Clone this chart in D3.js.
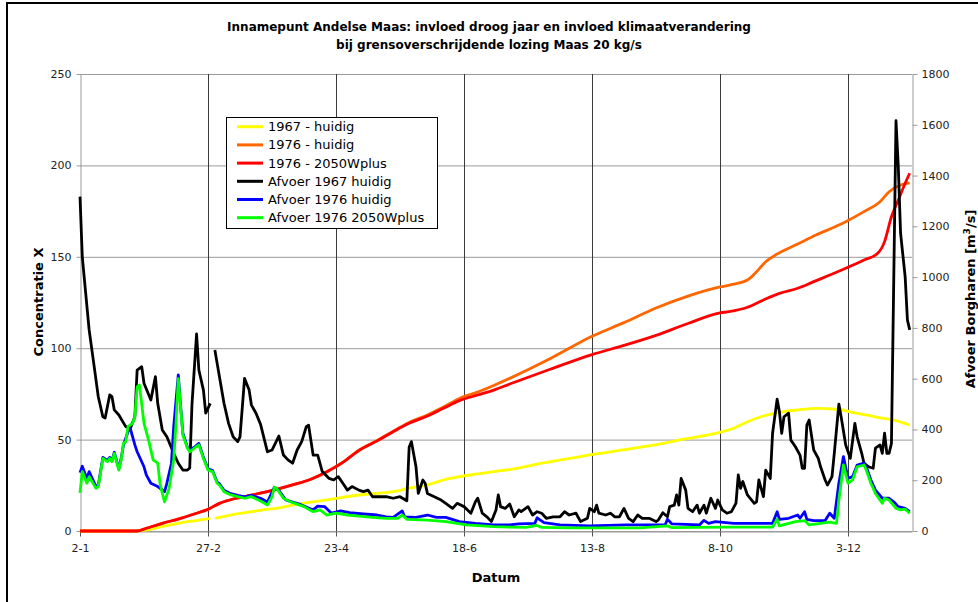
<!DOCTYPE html>
<html>
<head>
<meta charset="utf-8">
<script src="https://cdn.jsdelivr.net/npm/d3@7"></script>
<style>
  html, body { margin: 0; padding: 0; background: #fff; }
  svg { display: block; font-family: "DejaVu Sans", Verdana, sans-serif; }
</style>
</head>
<body>
<svg id="chart" width="978" height="602"></svg>
<script>
// Day offsets are counted from 2 January 1976; values for the 1967 series
// are placed on the same calendar (29 February has no 1967 value).
const startDate = new Date(1976, 0, 2);
const endDate = new Date(1976, 11, 31);

const titleLines = [
  "Innamepunt Andelse Maas: invloed droog jaar en invloed klimaatverandering",
  "bij grensoverschrijdende lozing Maas 20 kg/s"
];
const seriesNames = [
  "1967 - huidig", "1976 - huidig", "1976 - 2050Wplus",
  "Afvoer 1967 huidig", "Afvoer 1976 huidig", "Afvoer 1976 2050Wplus"
];
const seriesColors = ["#ffff00", "#ff6600", "#ff0000", "#000000", "#0000ff", "#00ff00"];

const xTickDays = [0, 56, 112, 168, 224, 280, 336];   // 2-1, 27-2, 23-4, 18-6, 13-8, 8-10, 3-12
const leftTicks = [0, 50, 100, 150, 200, 250];
const rightTicks = [0, 200, 400, 600, 800, 1000, 1200, 1400, 1600, 1800];

// Concentratie X (left axis), [day, value]
const conc1967 = [[0,0],[25,0],[29,0.5],[36,2.4],[44,4.5],[50,5.6],[57,6.9],[58,null],[59,6.9],[66,8.75],[73,10.2],[80,11.5],[87,12.7],[93,14.2],[108,17],[122,19.7],[137,21.5],[144,23.4],[152,25.2],[159,27.9],[166,29.7],[174,31.2],[184,33],[188,33.6],[198,36.1],[213,39.4],[223,41.6],[242,45.2],[254,47.6],[264,50.2],[278,53.4],[286,56.2],[292,59.8],[299,62.9],[306,64.9],[314,66.2],[322,67.1],[331,66.6],[340,64.4],[349,62.2],[356,60.7],[363,58]];
const conc1976 = [[0,0],[25,0],[29,1.5],[36,4.2],[44,6.9],[50,9.3],[56,11.9],[61,15.1],[67,17.5],[73,19.1],[80,21],[86,22.8],[93,25.2],[101,28.3],[108,32.4],[115,37.6],[122,44.2],[130,49.5],[137,54.6],[144,59.3],[152,63.5],[159,67.8],[166,72.5],[174,76],[181,79.6],[188,83.5],[206,94.5],[224,106.5],[238,114],[252,122],[266,128.5],[280,133.5],[286,135],[292,137.3],[296,141.8],[300,147.3],[305,151.5],[314,157],[322,161.9],[331,166.8],[335,169.2],[343,174.7],[350,180.1],[354,185.6],[359,189.3],[363,190.5]];
const conc1976W = [[0,0],[25,0],[29,1.5],[36,4.2],[44,6.9],[50,9.3],[56,11.9],[61,15.1],[67,17.5],[73,19.1],[80,21],[86,22.8],[93,25.2],[101,28.3],[108,32.4],[115,37.5],[122,44],[130,49.3],[137,54.3],[144,58.9],[152,62.9],[159,67.1],[166,71.3],[174,74.4],[181,77.1],[188,80.4],[206,88.6],[224,96.5],[238,101.5],[252,107],[266,113.5],[280,119.3],[284,120],[292,122.4],[299,126.4],[306,130],[314,132.8],[321,136.4],[328,140],[335,143.7],[343,148.2],[349,151.9],[352,158.3],[355,171.9],[358,181],[361,190.2],[363,195.7]];

// Afvoer Borgharen in m3/s (right axis), [day, value]
const afvoer1967 = [[0,1317],[1,1080],[4,792],[6,661],[8,529],[10,450],[11,445],[13,536],[14,529],[15,477],[17,457],[20,411],[22,404],[24,450],[25,634],[27,647],[28,582],[31,516],[33,608],[34,503],[36,398],[38,371],[41,306],[43,267],[45,240],[47,240],[48,248],[49,500],[51,776],[52,634],[54,555],[55,464],[57,503],[58,null],[59,713],[61,608],[63,503],[65,424],[67,371],[69,352],[70,371],[72,601],[74,555],[75,496],[77,464],[79,420],[82,312],[84,319],[87,374],[89,299],[91,280],[93,267],[95,319],[97,352],[99,411],[100,417],[102,299],[104,299],[106,234],[109,207],[111,201],[113,214],[115,188],[117,161],[119,175],[122,161],[124,155],[126,161],[128,135],[131,135],[134,135],[137,129],[140,135],[143,119],[144,330],[145,352],[147,253],[148,148],[150,201],[151,188],[152,148],[155,135],[158,122],[160,109],[163,89],[165,109],[168,96],[171,70],[173,115],[174,129],[176,70],[178,56],[180,37],[182,83],[183,142],[184,96],[186,89],[188,106],[190,56],[192,83],[193,76],[196,96],[198,63],[200,76],[202,70],[204,50],[207,56],[210,56],[212,76],[214,63],[217,70],[219,37],[222,50],[223,89],[225,76],[226,102],[227,70],[230,63],[232,70],[234,56],[236,56],[238,89],[240,50],[242,37],[244,63],[246,50],[249,50],[252,37],[253,43],[255,72],[257,56],[258,96],[260,102],[261,142],[262,102],[263,207],[265,161],[266,89],[268,76],[270,102],[271,70],[273,102],[274,70],[276,129],[278,89],[279,122],[281,83],[283,70],[285,76],[287,110],[288,221],[289,168],[290,195],[292,142],[295,109],[296,115],[297,201],[299,135],[300,240],[302,207],[303,385],[305,519],[306,470],[307,385],[308,450],[310,464],[311,358],[313,332],[315,299],[316,247],[317,247],[318,417],[319,437],[321,319],[323,286],[324,253],[326,201],[327,181],[329,214],[330,306],[332,500],[333,450],[335,339],[337,286],[339,424],[340,371],[342,306],[343,267],[345,253],[347,247],[348,326],[350,339],[351,306],[352,385],[353,306],[354,306],[355,345],[357,1616],[358,1435],[359,1173],[361,1002],[362,831],[363,792]];
const afvoer1976 = [[0,230],[1,255],[3,207],[4,234],[7,175],[8,180],[10,290],[12,278],[13,290],[14,278],[15,310],[17,245],[18,285],[19,339],[21,391],[22,404],[24,339],[25,312],[28,253],[29,221],[31,188],[34,175],[37,155],[38,188],[40,267],[41,411],[43,615],[44,495],[45,385],[47,330],[48,318],[50,330],[52,345],[54,290],[56,245],[58,238],[60,192],[61,186],[63,160],[66,147],[69,140],[72,134],[75,140],[79,129],[82,114],[85,172],[87,160],[90,122],[96,106],[102,83],[104,98],[107,96],[110,70],[114,79],[118,72],[124,67],[130,63],[134,56],[137,54],[141,79],[142,56],[147,54],[152,63],[156,54],[160,54],[166,37],[173,30],[181,24],[188,24],[192,28],[199,30],[200,52],[203,33],[210,24],[223,20],[239,24],[250,24],[256,24],[257,46],[259,28],[271,24],[273,42],[275,30],[278,37],[286,30],[292,30],[303,30],[305,76],[306,46],[310,50],[314,63],[315,50],[317,76],[318,46],[321,41],[326,41],[328,70],[330,50],[332,188],[334,293],[336,207],[338,214],[340,260],[343,267],[344,253],[346,201],[348,161],[351,129],[354,129],[356,115],[358,96],[361,89],[363,76]];
const afvoer1976W = [[0,150],[1,234],[3,188],[4,214],[7,168],[8,175],[10,286],[12,273],[13,286],[14,273],[15,306],[17,240],[18,280],[19,345],[20,352],[21,411],[23,424],[24,450],[25,568],[26,575],[28,424],[30,358],[32,280],[34,267],[35,188],[36,148],[37,115],[39,168],[41,280],[42,424],[43,600],[44,490],[45,378],[47,326],[48,312],[50,326],[52,339],[54,286],[56,240],[58,234],[60,188],[61,181],[63,155],[66,142],[69,135],[72,129],[75,135],[79,118],[82,102],[84,135],[85,172],[86,168],[87,155],[89,129],[92,115],[98,96],[102,76],[105,83],[108,63],[112,70],[117,63],[122,59],[128,54],[134,50],[139,50],[141,63],[143,46],[152,43],[160,37],[169,24],[181,17],[188,15],[195,14],[200,22],[202,14],[215,12],[230,12],[245,12],[257,20],[259,13],[270,14],[284,15],[303,15],[305,46],[306,20],[313,37],[317,41],[319,24],[328,35],[331,30],[332,122],[334,260],[336,188],[338,201],[340,253],[343,260],[344,240],[346,188],[348,148],[351,109],[352,129],[354,122],[357,89],[359,83],[361,86],[363,70]];

const svg = d3.select("#chart");
const plot = { left: 80, right: 912, top: 74, bottom: 531 };

const x = d3.scaleTime().domain([startDate, endDate]).range([plot.left, plot.right]);
const yL = d3.scaleLinear().domain([0, 250]).range([plot.bottom, plot.top]);
const yR = d3.scaleLinear().domain([0, 1800]).range([plot.bottom, plot.top]);
const dayToDate = d => d3.timeDay.offset(startDate, d);

// outer frame
svg.append("rect")
  .attr("x", 7).attr("y", 3).attr("width", 1000).attr("height", 700)
  .attr("fill", "none").attr("stroke", "#000").attr("stroke-width", 2);

// title
svg.append("g").selectAll("text").data(titleLines).join("text")
  .attr("x", 489).attr("y", (d, i) => 31 + i * 18)
  .attr("text-anchor", "middle")
  .attr("font-size", 12).attr("font-weight", "bold").attr("fill", "#000")
  .text(d => d);

// horizontal grid
svg.append("g").selectAll("line").data(leftTicks).join("line")
  .attr("x1", plot.left).attr("x2", plot.right)
  .attr("y1", d => yL(d) + 0.5).attr("y2", d => yL(d) + 0.5)
  .attr("stroke", "#9a9a9a").attr("stroke-width", 1);

// vertical grid at the date ticks
svg.append("g").selectAll("line").data(xTickDays.slice(1)).join("line")
  .attr("x1", d => Math.round(x(dayToDate(d))) + 0.5).attr("x2", d => Math.round(x(dayToDate(d))) + 0.5)
  .attr("y1", plot.top).attr("y2", plot.bottom)
  .attr("stroke", "#3a3a3a").attr("stroke-width", 1);

// axes
function styleAxis(g, col) {
  g.selectAll(".domain").attr("stroke", col);
  g.selectAll(".tick line").attr("stroke", col);
  g.selectAll(".tick text").attr("fill", "#222")
    .attr("font-family", '"DejaVu Sans", Verdana, sans-serif').attr("font-size", 11);
}
const gL = svg.append("g").attr("transform", `translate(${plot.left + 0.5},0)`)
  .call(d3.axisLeft(yL).tickValues(leftTicks).tickFormat(d3.format("d"))
    .tickSize(4).tickSizeOuter(0).tickPadding(5));
styleAxis(gL, "#9a9a9a");
const gR = svg.append("g").attr("transform", `translate(${plot.right + 0.5},0)`)
  .call(d3.axisRight(yR).tickValues(rightTicks).tickFormat(d3.format("d"))
    .tickSize(5).tickSizeOuter(0).tickPadding(4));
styleAxis(gR, "#9a9a9a");
const gB = svg.append("g").attr("transform", `translate(0,${plot.bottom + 0.5})`)
  .call(d3.axisBottom(x).tickValues(xTickDays.map(dayToDate))
    .tickFormat(d3.timeFormat("%-d-%-m")).tickSize(5).tickSizeOuter(0).tickPadding(8));
styleAxis(gB, "#9a9a9a");
gB.selectAll(".tick line").attr("stroke", "#555");

// axis titles
svg.append("text")
  .attr("transform", `translate(43,302) rotate(-90)`)
  .attr("text-anchor", "middle").attr("font-size", 13).attr("font-weight", "bold")
  .text("Concentratie X");
svg.append("text")
  .attr("x", 496).attr("y", 582).attr("text-anchor", "middle")
  .attr("font-size", 13).attr("font-weight", "bold").text("Datum");
const rt = svg.append("text")
  .attr("transform", `translate(975,299) rotate(-90)`)
  .attr("text-anchor", "middle").attr("font-size", 13).attr("font-weight", "bold");
rt.append("tspan").text("Afvoer Borgharen [m");
rt.append("tspan").attr("dy", -5).attr("font-size", 9).text("3");
rt.append("tspan").attr("dy", 5).text("/s]");

// series
const lineL = d3.line().defined(d => d[1] !== null)
  .x(d => x(dayToDate(d[0]))).y(d => yL(d[1])).curve(d3.curveMonotoneX);
const lineR = d3.line().defined(d => d[1] !== null)
  .x(d => x(dayToDate(d[0]))).y(d => yR(d[1]));

const series = [
  { data: conc1967, line: lineL },
  { data: conc1976, line: lineL },
  { data: conc1976W, line: lineL },
  { data: afvoer1967, line: lineR },
  { data: afvoer1976, line: lineR },
  { data: afvoer1976W, line: lineR }
];
svg.append("g").selectAll("path").data(series).join("path")
  .attr("d", s => s.line(s.data))
  .attr("fill", "none")
  .attr("stroke", (s, i) => seriesColors[i])
  .attr("stroke-width", 2.8)
  .attr("stroke-linejoin", "round");

// legend
const lg = svg.append("g");
lg.append("rect").attr("x", 226.5).attr("y", 117.5).attr("width", 211).attr("height", 111)
  .attr("fill", "#fff").attr("stroke", "#000").attr("stroke-width", 1);
const items = lg.selectAll("g.item").data(seriesNames).join("g").attr("class", "item")
  .attr("transform", (d, i) => `translate(0,${126.7 + i * 18.2})`);
items.append("line").attr("x1", 237).attr("x2", 263).attr("y1", 0).attr("y2", 0)
  .attr("stroke", (d, i) => seriesColors[i]).attr("stroke-width", 3);
items.append("text").attr("x", 268).attr("y", 0).attr("dy", "0.35em")
  .attr("font-size", 13).attr("fill", "#000").text(d => d);
</script>
</body>
</html>
